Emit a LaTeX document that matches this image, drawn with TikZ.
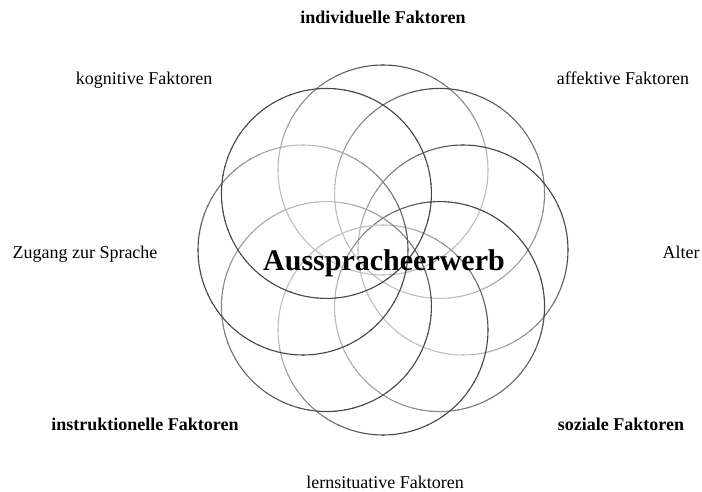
\documentclass[tikz,border=0pt]{standalone}
\usepackage{fontspec}
\setmainfont{Liberation Serif}
\usetikzlibrary{calc}
\newcommand{\ringdraw}[5]{%
  \foreach \i in {0,...,71}{%
    \pgfmathsetmacro\aa{\i*5}%
    \pgfmathsetmacro\am{\aa+2.5}%
    \pgfmathtruncatemacro\q{floor(\am/90)}%
    \pgfmathsetmacro\tt{(\am-90*\q)/90}%
    \pgfmathsetmacro\va{{#2,#3,#4,#5,#2}[\q]}%
    \pgfmathsetmacro\vb{{#2,#3,#4,#5,#2}[\q+1]}%
    \pgfmathtruncatemacro\g{\va+(\vb-\va)*\tt}%
    \draw[ring, black!\g] (#1) ++(\aa:105) arc[start angle=\aa, delta angle=5.3, radius=105];
  }}
\begin{document}
\begin{tikzpicture}[x=1pt,y=1pt,
  ring/.style={line width=1.1pt, line cap=round},
  lab/.style={font=\fontsize{18}{20}\selectfont, inner sep=0pt, anchor=base},
  blab/.style={lab, font=\fontsize{18}{20}\selectfont\bfseries},
  title/.style={lab, font=\fontsize{30}{32}\selectfont\bfseries}]
\useasboundingbox (0,0) rectangle (702,491);
\coordinate (c) at (383,241);
\coordinate (cN)  at ($(c)+(90:80)$);
\coordinate (cNE) at ($(c)+(45:80)$);
\coordinate (cE)  at ($(c)+(0:80)$);
\coordinate (cSE) at ($(c)+(-45:80)$);
\coordinate (cS)  at ($(c)+(-90:80)$);
\coordinate (cSW) at ($(c)+(225:80)$);
\coordinate (cW)  at ($(c)+(180:80)$);
\coordinate (cNW) at ($(c)+(135:80)$);
\ringdraw{cN}{25}{72}{25}{25}
\ringdraw{cNE}{48}{72}{25}{25}
\ringdraw{cE}{72}{72}{25}{25}
\ringdraw{cSE}{72}{72}{25}{48}
\ringdraw{cS}{72}{25}{25}{72}
\ringdraw{cSW}{72}{25}{48}{72}
\ringdraw{cW}{72}{25}{72}{72}
\ringdraw{cNW}{72}{72}{72}{72}
\node[title] (main) at (384,221) {Ausspracheerwerb};
\node[blab] (ind) at (383,467) {individuelle Faktoren};
\node[lab] (kog) at (144,406) {kognitive Faktoren};
\node[lab] (aff) at (623,406) {affektive Faktoren};
\node[lab] (zug) at (85,233) {Zugang zur Sprache};
\node[lab] (alt) at (681,233) {Alter};
\node[blab] (ins) at (145,61) {instruktionelle Faktoren};
\node[blab] (soz) at (621,61) {soziale Faktoren};
\node[lab] (lern) at (385,3) {lernsituative Faktoren};
\end{tikzpicture}
\end{document}
